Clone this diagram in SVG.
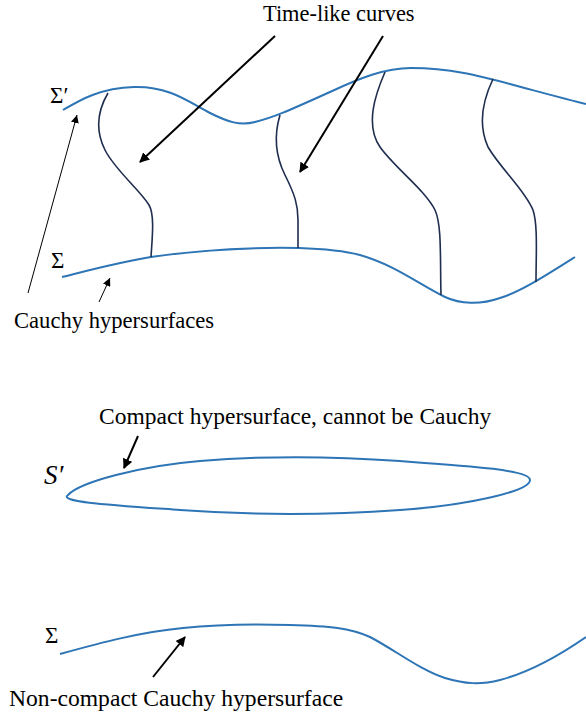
<svg xmlns="http://www.w3.org/2000/svg" width="586" height="717" viewBox="0 0 586 717">
<style>
.hs{fill:none;stroke:#2e75b6;stroke-width:2}
.tl{fill:none;stroke:#1f2d4f;stroke-width:1.6}
.ar{fill:none;stroke:#000;stroke-width:2}
.ar2{fill:none;stroke:#000;stroke-width:1}
text{font-family:"Liberation Serif","Times New Roman",serif;font-size:23px;fill:#000}
</style>
<defs>
<marker id="ah" markerWidth="10" markerHeight="10" refX="9" refY="5" orient="auto" markerUnits="userSpaceOnUse" viewBox="0 0 10 10">
<path d="M0,0 L10,5 L0,10 Z" fill="#000"/>
</marker>
<marker id="ah2" markerWidth="8" markerHeight="8" refX="8" refY="4" orient="auto" markerUnits="userSpaceOnUse" viewBox="0 0 8 8">
<path d="M0,0 L8,4 L0,8 Z" fill="#000"/>
</marker>
</defs>
<g id="sigma-prime">
<path class="hs" d="M63,110 C80,100 100,88 134,87 C170,86 190,103 210,113 C228,122 240,126 255,122 C275,117 290,110 330,92 C360,78 385,68 411,68 C450,68 480,76 510,84 C540,92 565,99 586,104"/>
<text x="50" y="103">Σ′</text>
</g>
<g id="sigma">
<path class="hs" d="M62,277 C90,270 120,262 151,257 C200,250 250,247 299,248 C330,249 345,251 360,255 C395,265 420,285 445,297 C460,304 480,305 500,298 C520,292 545,276 575,257"/>
<text x="51" y="268">Σ</text>
</g>
<g id="timelike-curves">
<path class="tl" d="M108,93 C98,110 95,130 105,150 C115,170 140,190 149,205 C155,215 152,240 151,257"/>
<path class="tl" d="M280,115 C274,135 275,155 285,175 C295,195 298,205 298,220 L298,248"/>
<path class="tl" d="M385,72 C375,95 365,125 380,147 C395,168 425,190 435,210 C442,225 440,260 441,295"/>
<path class="tl" d="M493,79 C483,100 478,125 488,147 C500,168 525,190 533,210 C538,225 536,255 536,282"/>
</g>
<g id="label-timelike"><text x="263" y="21" style="font-size:22.4px">Time-like curves</text></g>
<g id="label-cauchy"><text x="14" y="328" style="font-size:22.6px">Cauchy hypersurfaces</text></g>
<g id="compact">
<path class="hs" d="M68,495 C80,482 140,466 200,461 C260,456 330,456 400,461 C470,466 530,470 530,480 C530,491 470,505 400,510 C330,515 250,515 180,510 C110,505 58,502 68,495 Z"/>
<text x="44" y="484" font-style="italic" style="font-size:27px">S′</text>
<text x="99" y="424" style="font-size:23.5px">Compact hypersurface, cannot be Cauchy</text>
</g>
<g id="noncompact">
<path class="hs" d="M60,654 C100,643 140,632 183,628 C220,624 260,624 290,625 C330,626 350,628 370,637 C395,650 420,670 445,678 C465,684 480,685 500,680 C530,672 560,655 586,637"/>
<text x="45" y="643">Σ</text>
<text x="9" y="706" style="font-size:23.6px">Non-compact Cauchy hypersurface</text>
</g>
<g id="connectors">
<line class="ar" x1="275" y1="36" x2="140" y2="162" marker-end="url(#ah)"/>
<line class="ar" x1="383" y1="36" x2="300" y2="172" marker-end="url(#ah)"/>
<line class="ar2" x1="28" y1="293" x2="77" y2="115" marker-end="url(#ah2)"/>
<line class="ar2" x1="99" y1="302" x2="110" y2="278" marker-end="url(#ah2)"/>
<line class="ar" x1="138" y1="436" x2="124" y2="468" marker-end="url(#ah)"/>
<line class="ar" x1="153" y1="677" x2="185" y2="637" marker-end="url(#ah)"/>
</g>
</svg>
